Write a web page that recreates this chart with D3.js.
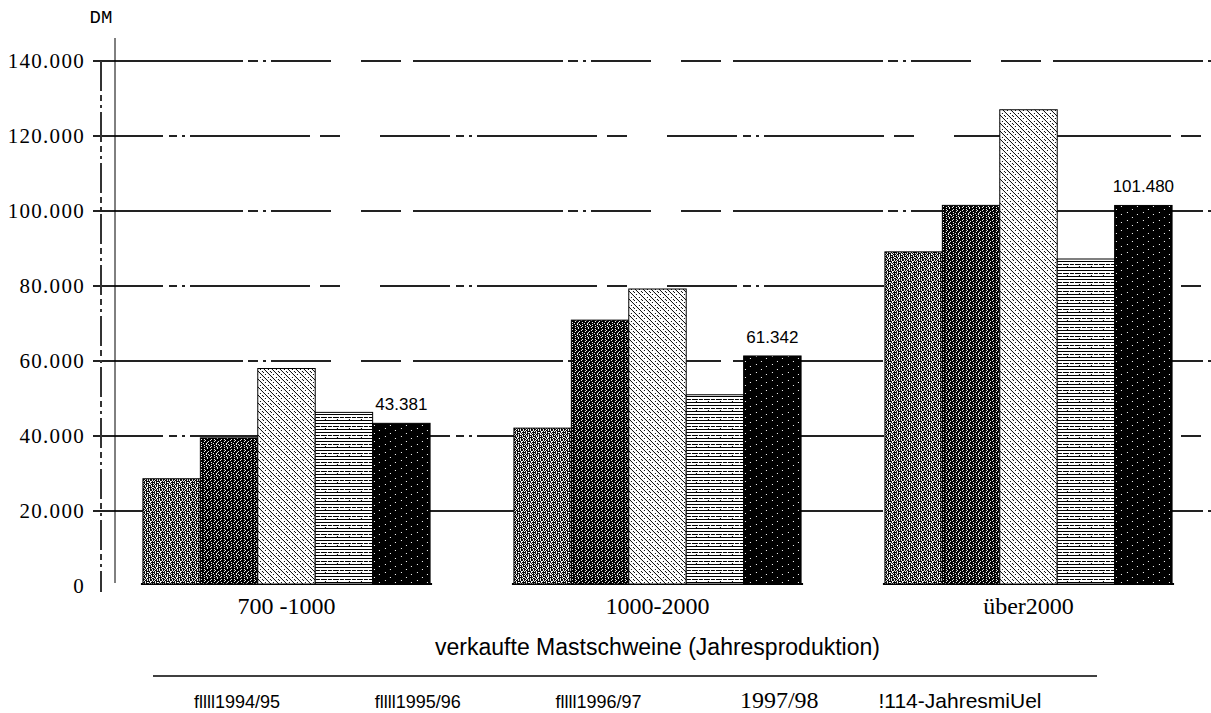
<!DOCTYPE html>
<html>
<head>
<meta charset="utf-8">
<script src="https://cdn.jsdelivr.net/npm/d3@7"></script>
<style>
  body{margin:0;background:#fff;}
  svg{display:block;}
</style>
</head>
<body>
<div id="chart"></div>
<script>
// data
const categories = ["700 -1000", "1000-2000", "über2000"]
const seriesNames = ["fllll1994/95", "fllll1995/96", "fllll1996/97", "1997/98", "!114-JahresmiUel"]
const v1994 = [28600, 42100, 89100]
const v1995 = [39500, 70900, 101500]
const v1996 = [58000, 79200, 127000]
const v1997 = [46300, 51000, 87200]
const vMittel = [43381, 61342, 101480]
const yTicks = [0, 20000, 40000, 60000, 80000, 100000, 120000, 140000]
const xTitle = "verkaufte Mastschweine (Jahresproduktion)"
const yUnit = "DM"

const seriesValues = [v1994, v1995, v1996, v1997, vMittel]

const W = 1211, H = 713

const svg = d3.select("#chart")
    .append("svg")
    .attr("width", W)
    .attr("height", H)

const defs = svg.append("defs")

// fill patterns like the scanned hatching
function makePattern(id, rows, bg, fg){
    const p = defs.append("pattern")
        .attr("id", id)
        .attr("patternUnits", "userSpaceOnUse")
        .attr("width", rows[0].length)
        .attr("height", rows.length)
    p.append("rect").attr("width", rows[0].length).attr("height", rows.length).attr("fill", bg)
    rows.forEach((r, j) => {
        r.split("").forEach((c, i) => {
            if(c === "#") p.append("rect").attr("x", i).attr("y", j).attr("width", 1).attr("height", 1).attr("fill", fg)
        })
    })
}

makePattern("p0", [
    "#.##.#.##.",
    ".#.####..#",
    "##.#..#.##",
    ".#.###.#.#",
    "#.##.#..##",
    ".#.#.###.#",
    "##.#.#.#.#",
    ".##..####.",
    "#.#.##.#.#",
    "##.#.#.##."
], "#fff", "#000")

makePattern("p1", [
    "##.####.##",
    "#.###.####",
    "####.###.#",
    ".##.######",
    "###.#.##.#",
    "#.####.###",
    "###.####.#",
    "#.##.##.##",
    "####.#####",
    "#.######.#"
], "#fff", "#000")

makePattern("p2", [
    "#.......",
    ".#...#..",
    "..#.....",
    "...#...#",
    "#...#...",
    ".....#..",
    "..#...#.",
    ".......#"
], "#fff", "#000")

makePattern("p3", [
    "############",
    "............",
    "............",
    "####.####.##",
    "............",
    "..#.........",
    "############",
    "............",
    "............"
], "#fff", "#000")

makePattern("p4", [
    "################",
    "#######.########",
    "################",
    "################",
    "##.#############",
    "################",
    "############.###",
    "################"
], "#fff", "#000")

const fills = ["url(#p0)", "url(#p1)", "url(#p2)", "url(#p3)", "url(#p4)"]

// scales
const x0 = d3.scaleBand()
    .domain(categories)
    .range([101, 1214])
    .paddingInner(0.226)
    .paddingOuter(0.113)

const x1 = d3.scaleBand()
    .domain(seriesNames)
    .range([0, x0.bandwidth()])
    .padding(0)

const y = d3.scaleLinear()
    .domain([0, 140000])
    .range([586, 61])

const loc = d3.formatLocale({decimal: ",", thousands: ".", grouping: [3], currency: ["", ""]})
const fmt = loc.format(",d")

// grid lines (broken dash look of the scan)
svg.append("g")
    .selectAll("line")
    .data(yTicks.filter(d => d > 0))
    .join("line")
    .attr("x1", 93)
    .attr("x2", W)
    .attr("y1", d => y(d))
    .attr("y2", d => y(d))
    .attr("stroke", "#222")
    .attr("stroke-width", 2)
    .attr("stroke-dasharray", (d, i) => i % 2 ? "70,6,8,5,3,5,120,10,20,40" : "150,5,10,5,3,5,60,30,40,12")

// dashed left frame line
svg.append("line")
    .attr("x1", 101).attr("x2", 101)
    .attr("y1", y(140000)).attr("y2", 592)
    .attr("stroke", "#333")
    .attr("stroke-width", 2)
    .attr("stroke-dasharray", "30,4,6,4,3,4")

// y axis line
svg.append("line")
    .attr("x1", 115).attr("x2", 115)
    .attr("y1", 38).attr("y2", 583)
    .attr("stroke", "#000")
    .attr("stroke-width", 1)

// y tick labels
svg.append("g")
    .selectAll("text")
    .data(yTicks)
    .join("text")
    .attr("x", 85)
    .attr("y", d => y(d) + 7)
    .attr("text-anchor", "end")
    .style("font-family", "'Liberation Serif', 'Times New Roman', serif")
    .style("font-size", "21px")
    .style("letter-spacing", "1.3px")
    .text(d => fmt(d))

svg.append("text")
    .attr("x", 101)
    .attr("y", 23)
    .attr("text-anchor", "middle")
    .style("font-family", "'Liberation Mono', 'Courier New', monospace")
    .style("font-size", "19px")
    .text(yUnit)

// bars
const rows = categories.map((c, i) => ({cat: c, vals: seriesNames.map((s, k) => ({s: s, k: k, v: seriesValues[k][i]}))}))

const groups = svg.append("g")
    .selectAll("g")
    .data(rows)
    .join("g")
    .attr("transform", d => `translate(${x0(d.cat)},0)`)

groups.append("line")
    .attr("x1", -2)
    .attr("x2", x0.bandwidth() + 2)
    .attr("y1", y(0) - 2)
    .attr("y2", y(0) - 2)
    .attr("stroke", "#000")
    .attr("stroke-width", 2)

groups.selectAll("rect")
    .data(d => d.vals)
    .join("rect")
    .attr("x", d => x1(d.s))
    .attr("y", d => y(d.v))
    .attr("width", x1.bandwidth())
    .attr("height", d => y(0) - 2 - y(d.v))
    .attr("fill", d => fills[d.k])
    .attr("stroke", "#000")
    .attr("stroke-width", 1)

// value labels on the mean bar
groups.append("text")
    .attr("x", d => x1(seriesNames[4]) + x1.bandwidth() / 2)
    .attr("y", d => y(d.vals[4].v) - 13)
    .attr("text-anchor", "middle")
    .style("font-family", "'Liberation Sans', Arial, sans-serif")
    .style("font-size", "17px")
    .text(d => fmt(d.vals[4].v))

// category labels
svg.append("g")
    .selectAll("text")
    .data(categories)
    .join("text")
    .attr("x", d => x0(d) + x0.bandwidth() / 2)
    .attr("y", 614)
    .attr("text-anchor", "middle")
    .style("font-family", "'Liberation Serif', 'Times New Roman', serif")
    .style("font-size", "24px")
    .text(d => d)

svg.append("text")
    .attr("x", x0(categories[1]) + x0.bandwidth() / 2)
    .attr("y", 655)
    .attr("text-anchor", "middle")
    .style("font-family", "'Liberation Sans', Arial, sans-serif")
    .style("font-size", "23px")
    .text(xTitle)

// legend
svg.append("line")
    .attr("x1", 153).attr("x2", 1097)
    .attr("y1", 676).attr("y2", 676)
    .attr("stroke", "#000")
    .attr("stroke-width", 1.5)

const lx = d3.scalePoint()
    .domain(seriesNames)
    .range([237, 960])

const legendSize = ["18px", "18px", "18px", "24px", "21px"]

svg.append("g")
    .selectAll("text")
    .data(seriesNames)
    .join("text")
    .attr("x", d => lx(d))
    .attr("y", 708)
    .attr("text-anchor", "middle")
    .style("font-family", (d, i) => i === 3 ? "'Liberation Serif', serif" : "'Liberation Sans', Arial, sans-serif")
    .style("font-size", (d, i) => legendSize[i])
    .text(d => d)
</script>
</body>
</html>
